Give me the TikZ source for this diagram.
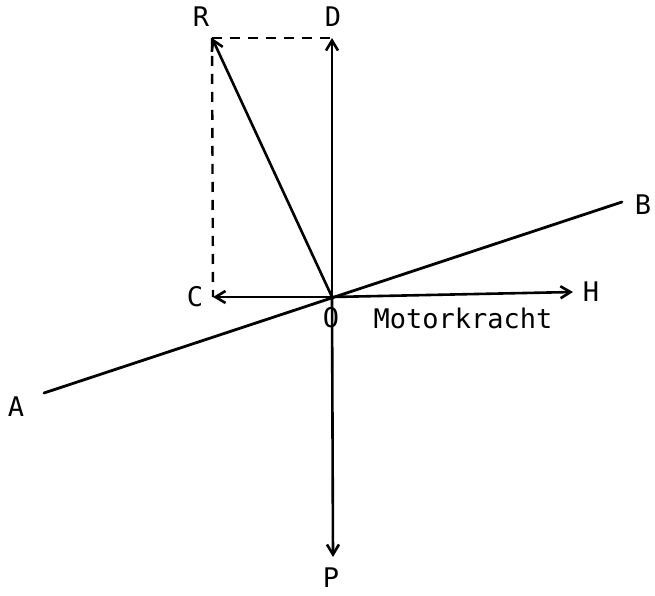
\documentclass[tikz,border=0pt]{standalone}
\usepackage{fontspec}
\setmainfont{DejaVu Sans Mono}
\usepackage{tikz}
\usetikzlibrary{positioning,arrows.meta}
\tikzset{
  force/.style={-{Straight Barb[length=10pt,width=12pt]},line width=2.6pt},
  helper/.style={line width=2.4pt,dash pattern=on 10pt off 8pt},
  axis/.style={line width=2.8pt,line cap=round},
  lbl/.style={inner sep=1pt,font=\fontsize{27}{29}\selectfont},
}
\begin{document}
\begin{tikzpicture}[x=1pt,y=1pt]
\useasboundingbox (0,0) rectangle (655,595);
% points of the force diagram
\coordinate (o) at (332,298);
\coordinate (d) at (332,557);
\coordinate (r) at (212,557);
\coordinate (c) at (213,298);
\coordinate (h) at (573,303);
\coordinate (p) at (333,38);
\coordinate (a) at (44,202);
\coordinate (b) at (622,393);

% wing chord
\draw[axis] (a) -- (b);

% rectangle of forces
\draw[helper] (r) -- (d);
\draw[helper] (r) -- (c);

\draw[force] (o) -- (d);
\draw[force] (o) -- (r);
\draw[force] (o) -- (c);
\draw[force] (o) -- (h);
\draw[force] (o) -- (p);

\node[lbl] (lr) at (201,578) {R};
\node[lbl] (ld) at (333,578) {D};
\node[lbl] (lb) at (643,390) {B};
\node[lbl] (lc) at (195,298) {C};
\node[lbl] (lh) at (591,303) {H};
\node[lbl] (lo) at (331,277) {O};
\node[lbl, right=32pt of lo] (motor) {Motorkracht};
\node[lbl] (la) at (16,188) {A};
\node[lbl] (lp) at (331,17) {P};
\end{tikzpicture}
\end{document}
